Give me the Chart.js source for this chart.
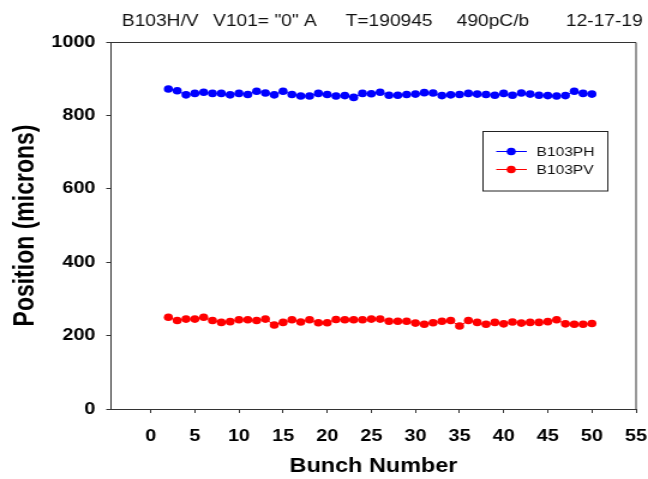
<!DOCTYPE html>
<html>
<head>
<meta charset="utf-8">
<script src="https://cdn.jsdelivr.net/npm/chart.js@4/dist/chart.umd.min.js"></script>
<style>
  html, body { margin: 0; padding: 0; background: #ffffff; overflow: hidden; }
</style>
</head>
<body>
<canvas id="c" width="540" height="479" style="display:block;width:648px;height:479px;"></canvas>
<script>
// ---- data ----
const bunches = [2,3,4,5,6,7,8,9,10,11,12,13,14,15,16,17,18,19,20,21,22,23,24,25,26,
                 27,28,29,30,31,32,33,34,35,36,37,38,39,40,41,42,43,44,45,46,47,48,49,50];
const b103ph = [872,867,856,860,863,860,860,856,860,857,866,861,856,866,857,853,853,860,857,853,854,849,860,859,863,
                855,855,857,858,862,861,854,856,857,860,858,857,855,860,855,861,858,855,854,853,854,866,860,858];
const b103pv = [250,241,245,245,250,241,236,238,243,243,241,245,229,236,243,237,243,235,235,244,243,243,243,245,245,
                239,239,239,234,231,235,239,241,226,241,236,231,236,232,237,234,236,236,238,243,232,231,231,233];
const seriesNames = ["B103PH", "B103PV"];
const xTicks = [0,5,10,15,20,25,30,35,40,45,50,55];
const yTicks = [0,200,400,600,800,1000];
const titleParts = ["B103H/V", "V101= \"0\" A", "T=190945", "490pC/b", "12-17-19"];
const xTitle = "Bunch Number";
const yTitle = "Position (microns)";

// ---- styling / layout (internal canvas is horizontally stretched by 1.2) ----
const FONT = "'Liberation Sans', Arial, Helvetica, sans-serif";
const AXIS = "#333333";
const titleX = [101.5, 177.5, 288, 380.5, 471.5];

const toPts = (xs, ys) => xs.map((x, i) => ({ x: x, y: ys[i] }));

const titlePlugin = {
  id: 'topTitle',
  afterDraw(chart) {
    const ctx = chart.ctx;
    ctx.save();
    ctx.fillStyle = '#111';
    ctx.font = "16px " + FONT;
    ctx.textAlign = 'left';
    ctx.textBaseline = 'alphabetic';
    titleParts.forEach((t, i) => ctx.fillText(t, titleX[i], 25.5));
    ctx.restore();
  }
};

const boxPlugin = {
  id: 'frameBox',
  afterDraw(chart) {
    const a = chart.chartArea;
    const ctx = chart.ctx;
    ctx.save();
    ctx.strokeStyle = AXIS;
    ctx.lineWidth = 1;
    ctx.beginPath();
    ctx.moveTo(a.left, Math.round(a.top) + 0.5);
    ctx.lineTo(a.right, Math.round(a.top) + 0.5);
    ctx.lineTo(a.right, a.bottom);
    ctx.stroke();
    ctx.restore();
  }
};

const legendPlugin = {
  id: 'boxLegend',
  afterDraw(chart) {
    const ctx = chart.ctx;
    const bx = 402.5, by = 131.5, bw = 104, bh = 59.5;
    ctx.save();
    ctx.fillStyle = '#fff';
    ctx.fillRect(bx, by, bw, bh);
    ctx.strokeStyle = '#222';
    ctx.lineWidth = 1;
    ctx.strokeRect(bx, by, bw, bh);
    const rows = [151.5, 169.5];
    chart.data.datasets.forEach((ds, i) => {
      const y = rows[i];
      ctx.strokeStyle = ds.borderColor;
      ctx.lineWidth = 1;
      ctx.beginPath();
      ctx.moveTo(413.5, y);
      ctx.lineTo(439, y);
      ctx.stroke();
      ctx.fillStyle = ds.pointBackgroundColor;
      ctx.beginPath();
      ctx.arc(426, y, 3.8, 0, Math.PI * 2);
      ctx.fill();
      ctx.fillStyle = '#111';
      ctx.font = "13px " + FONT;
      ctx.textAlign = 'left';
      ctx.textBaseline = 'middle';
      ctx.fillText(ds.label, 447, y + 0.5);
    });
    ctx.restore();
  }
};

new Chart(document.getElementById('c'), {
  type: 'scatter',
  data: {
    datasets: [
      {
        label: seriesNames[0],
        data: toPts(bunches, b103ph),
        showLine: true,
        borderColor: '#0000ff',
        borderWidth: 1,
        pointBackgroundColor: '#0000ff',
        pointBorderColor: '#0000ff',
        pointBorderWidth: 0,
        pointRadius: 3.8
      },
      {
        label: seriesNames[1],
        data: toPts(bunches, b103pv),
        showLine: true,
        borderColor: '#ff0000',
        borderWidth: 1,
        pointBackgroundColor: '#ff0000',
        pointBorderColor: '#ff0000',
        pointBorderWidth: 0,
        pointRadius: 3.8
      }
    ]
  },
  options: {
    responsive: false,
    devicePixelRatio: 1,
    animation: false,
    layout: { padding: { left: 0, right: 10, top: 42, bottom: 0 } },
    plugins: {
      legend: { display: false },
      title: { display: false },
      tooltip: { enabled: false }
    },
    scales: {
      x: {
        type: 'linear',
        position: 'bottom',
        min: -4.5,
        max: 55,
        afterBuildTicks(scale) { scale.ticks = xTicks.map(v => ({ value: v })); },
        afterFit(scale) { scale.height = 70; scale.paddingLeft = 0; scale.paddingRight = 0; },
        grid: { display: true, drawOnChartArea: false, drawTicks: true, tickLength: 4, color: AXIS, lineWidth: 1 },
        border: { display: true, color: AXIS, width: 1 },
        ticks: {
          autoSkip: false, maxRotation: 0, minRotation: 0,
          padding: 14,
          color: '#000',
          callback: v => String(v),
          font: { family: FONT, size: 16.5, weight: 'bold' }
        },
        title: {
          display: true, text: xTitle, color: '#000',
          font: { family: FONT, size: 19.5, weight: 'bold' },
          padding: { top: 0, bottom: 1 }
        }
      },
      y: {
        type: 'linear',
        position: 'left',
        min: 0,
        max: 1000,
        afterBuildTicks(scale) { scale.ticks = yTicks.map(v => ({ value: v })); },
        afterFit(scale) { scale.width = 92.5; scale.paddingTop = 0; scale.paddingBottom = 0; },
        grid: { display: true, drawOnChartArea: false, drawTicks: true, tickLength: 4, color: AXIS, lineWidth: 1 },
        border: { display: true, color: AXIS, width: 1 },
        ticks: {
          padding: 9,
          color: '#000',
          callback: v => String(v),
          font: { family: FONT, size: 16.5, weight: 'bold' }
        },
        title: {
          display: true, text: yTitle, color: '#000',
          font: { family: FONT, size: 23, weight: 'bold' },
          padding: { top: 8, bottom: 0 }
        }
      }
    }
  },
  plugins: [titlePlugin, boxPlugin, legendPlugin]
});
</script>
</body>
</html>
